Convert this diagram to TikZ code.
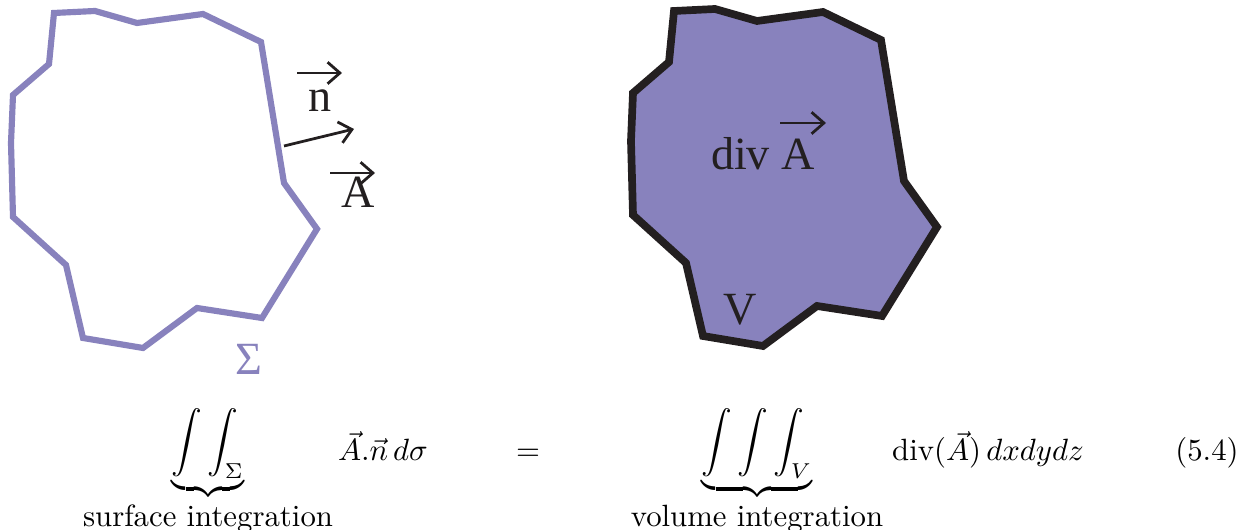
\documentclass[tikz,border=0pt]{standalone}
\usepackage{fontspec}
\newfontfamily\figfont{Liberation Serif}
\usetikzlibrary{arrows.meta, positioning}
\definecolor{surfLilac}{RGB}{136,130,189}
\definecolor{edgeDark}{RGB}{35,31,32}

\begin{document}
\begin{tikzpicture}[
    x=0.325pt, y=-0.325pt,
    % Closed surface (outline only)
    surface/.style={
        draw=surfLilac,
        line width=2pt,
        line join=miter
    },
    % Enclosed volume (filled)
    volume/.style={
        draw=edgeDark,
        fill=surfLilac,
        line width=2.5pt,
        line join=miter
    },
    % Labels in the figure
    figlabel/.style={
        font=\figfont\fontsize{15}{18}\selectfont,
        text=edgeDark,
        inner sep=0pt,
        anchor=base
    },
    % Vector arrows
    vecarrow/.style={
        draw=edgeDark,
        line width=0.9pt,
        -{Straight Barb[length=4pt, width=7pt]}
    },
    % Pieces of the formula
    eqn/.style={
        inner sep=0pt,
        anchor=base
    }
]
    \useasboundingbox (0,0) rectangle (1250,530);

    % Surface Sigma
    \draw [surface] (54,13) -- (95,11) -- (137,23) -- (203,14) -- (261,42) -- (284,183)
        -- (317,229) -- (262,318) -- (197,308) -- (143,348) -- (83,338) -- (66,265)
        -- (13,217) -- (11,143) -- (13,95) -- (49,64) -- cycle;

    % Volume V
    \begin{scope}[shift={(620,-2)}]
        \draw [volume] (54,13) -- (95,11) -- (137,23) -- (203,14) -- (261,42) -- (284,183)
            -- (317,229) -- (262,318) -- (197,308) -- (143,348) -- (83,338) -- (66,265)
            -- (13,217) -- (11,143) -- (13,95) -- (49,64) -- cycle;
    \end{scope}

    % Labels
    \node (nlab) [figlabel] at (320,112) {n};
    \node (alab) [figlabel] at (358,208) {A};
    \node (sigmalab) [figlabel, text=surfLilac] at (249,375) {Σ};
    \node (divlab) [figlabel] at (763,170) {div A};
    \node (vlab) [figlabel] at (740,325) {V};

    % Arrow ends
    \coordinate (nvecL) at (297,73);
    \coordinate (nvecR) at (342,73);
    \coordinate (foot) at (284,146);
    \coordinate (tip) at (354,129);
    \coordinate (avecL) at (330,173);
    \coordinate (avecR) at (375,173);
    \coordinate (divvecL) at (780,123);
    \coordinate (divvecR) at (826,123);

    \draw [vecarrow] (nvecL) -- (nvecR);
    \draw [vecarrow] (foot) -- (tip);
    \draw [vecarrow] (avecL) -- (avecR);
    \draw [vecarrow] (divvecL) -- (divvecR);

    % Formula
    \node (surfint) [eqn] at (208,450) {$\displaystyle\underbrace{\int\int_{\Sigma}}_{\mbox{surface integration}}$};
    \node (flux) [eqn] at (383,461) {$\vec{A}.\vec{n}\,d\sigma$};
    \node (eqsign) [eqn] at (528,461) {$=$};
    \node (volint) [eqn] at (757,450) {$\displaystyle\underbrace{\int\int\int_{V}}_{\mbox{volume integration}}$};
    \node (divint) [eqn] at (988,461) {$\mathrm{div}(\vec{A})\,dxdydz$};
    \node (eqnum) [eqn] at (1207,461) {(5.4)};

\end{tikzpicture}
\end{document}
